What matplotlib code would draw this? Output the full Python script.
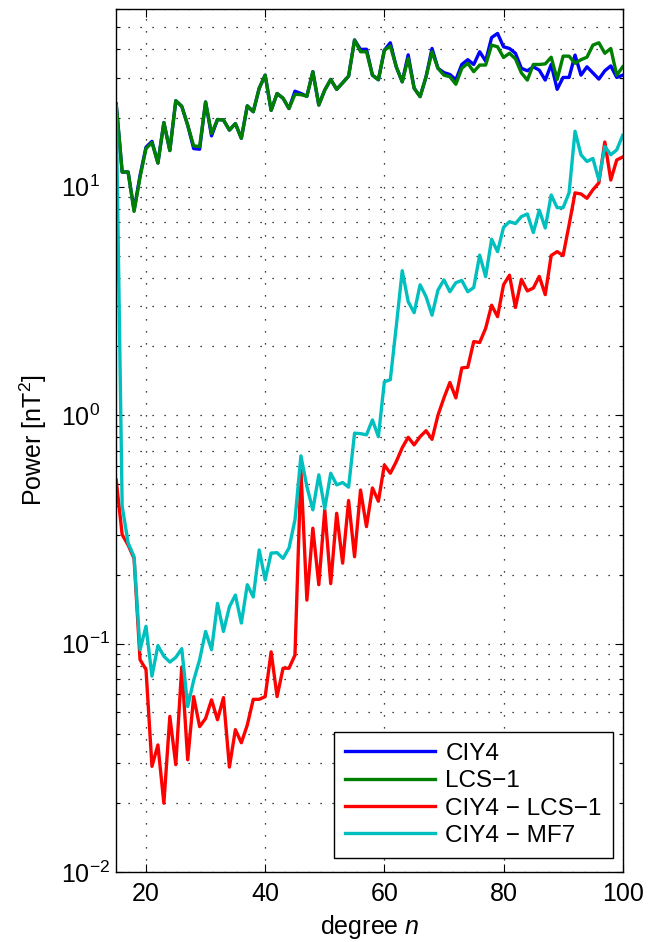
import matplotlib
matplotlib.use("Agg")
import matplotlib.pyplot as plt
import numpy as np
from matplotlib.ticker import FixedLocator, NullFormatter, LogFormatterSciNotation

plt.rcParams['font.family'] = ['Liberation Sans', 'DejaVu Sans']
plt.rcParams['mathtext.fontset'] = 'custom'
plt.rcParams['mathtext.rm'] = 'Liberation Sans'
plt.rcParams['mathtext.it'] = 'Liberation Sans:italic'
plt.rcParams['mathtext.bf'] = 'Liberation Sans:bold'
plt.rcParams['axes.unicode_minus'] = True

# ---------------- data ----------------
degrees = list(range(15, 101))

lcs1 = [23.0, 11.6, 11.6, 7.8, 11.0, 14.7, 15.6, 12.7, 19.1, 14.4,
        23.8, 22.5, 18.6, 15.1, 15.0, 23.5, 17.1, 19.7, 19.6, 17.7,
        18.9, 16.3, 22.6, 21.3, 27.0, 30.8, 21.6, 25.6, 24.4, 22.0,
        25.4, 25.3, 24.9, 31.9, 22.8, 26.5, 29.5, 26.7, 28.5, 30.5,
        43.9, 39.0, 39.0, 30.8, 29.4, 39.6, 41.3, 33.5, 28.8, 36.5,
        27.0, 24.8, 30.3, 39.0, 33.0, 30.8, 30.3, 28.1, 33.0, 34.7,
        31.9, 34.1, 34.1, 41.7, 41.0, 36.8, 38.4, 36.3, 31.5, 29.3,
        34.3, 34.3, 34.5, 36.9, 29.5, 37.3, 37.3, 34.7, 36.0, 36.9,
        41.7, 42.7, 38.4, 40.3, 30.8, 33.5]

ciy4 = [23.0, 11.6, 11.6, 7.9, 11.2, 14.9, 15.8, 12.7, 19.1, 14.4,
        23.8, 22.5, 18.6, 14.7, 14.6, 23.5, 16.7, 19.7, 19.6, 17.7,
        18.9, 16.3, 22.6, 21.3, 27.0, 30.8, 21.6, 25.6, 24.4, 22.0,
        26.2, 25.6, 24.9, 31.9, 22.8, 26.5, 29.5, 26.7, 28.5, 30.5,
        43.9, 39.9, 40.0, 30.8, 29.4, 39.6, 42.7, 33.5, 28.8, 37.8,
        27.0, 24.8, 30.3, 40.3, 33.0, 31.6, 31.0, 29.4, 34.3, 36.0,
        34.3, 39.0, 35.5, 45.0, 46.9, 41.0, 40.3, 38.4, 33.0, 32.2,
        33.5, 32.4, 29.3, 34.3, 26.7, 30.1, 30.1, 37.7, 30.8, 33.5,
        31.5, 29.6, 32.2, 33.8, 30.1, 30.8]

ciy4_minus_lcs1 = [0.52, 0.30, 0.27, 0.236, 0.085, 0.077, 0.029, 0.036, 0.020, 0.048,
                   0.0295, 0.079, 0.031, 0.0586, 0.0433, 0.047, 0.0567, 0.0464, 0.058, 0.0288,
                   0.042, 0.0368, 0.044, 0.057, 0.057, 0.0586, 0.092, 0.0586, 0.078, 0.078,
                   0.089, 0.575, 0.155, 0.32, 0.181, 0.385, 0.183, 0.372, 0.225, 0.423,
                   0.24, 0.47, 0.325, 0.48, 0.42, 0.605, 0.557, 0.626, 0.72, 0.80,
                   0.741, 0.805, 0.855, 0.784, 1.0, 1.19, 1.39, 1.19, 1.61, 1.62,
                   2.1, 2.08, 2.4, 3.03, 2.7, 3.72, 4.1, 2.96, 3.93, 3.5,
                   3.6, 4.05, 3.37, 5.0, 5.2, 5.0, 6.8, 9.4, 9.3, 8.9,
                   9.7, 10.4, 15.7, 10.7, 13.1, 13.5]

ciy4_minus_mf7 = [22.5, 0.40, 0.276, 0.24, 0.094, 0.119, 0.072, 0.098, 0.088, 0.083,
                  0.087, 0.095, 0.053, 0.069, 0.085, 0.113, 0.094, 0.150, 0.113, 0.145,
                  0.163, 0.123, 0.181, 0.16, 0.257, 0.19, 0.249, 0.25, 0.236, 0.262,
                  0.348, 0.663, 0.487, 0.385, 0.548, 0.39, 0.557, 0.495, 0.507, 0.484,
                  0.834, 0.83, 0.82, 0.953, 0.805, 1.40, 1.43, 2.45, 4.29, 3.14,
                  2.81, 3.72, 3.3, 2.74, 3.53, 3.91, 3.47, 3.8, 3.89, 3.47,
                  3.62, 5.02, 4.04, 5.89, 5.2, 6.64, 7.03, 6.9, 7.4, 7.6,
                  6.3, 7.9, 6.6, 9.2, 8.1, 8.1, 9.4, 17.5, 13.8, 12.9,
                  13.3, 10.7, 15.0, 13.8, 14.5, 16.8]

series_labels = ["CIY4", "LCS\u22121", "CIY4 \u2212 LCS\u22121", "CIY4 \u2212 MF7"]
series_colors = ["#0000ff", "#008000", "#ff0000", "#00bfbf"]
x_ticks = [20, 40, 60, 80, 100]
y_ticks = [1e-2, 1e-1, 1e0, 1e1]

# ---------------- figure ----------------
W, H = 648, 942
fig = plt.figure(figsize=(W / 100, H / 100), dpi=100)
L, R, T, B = 116.2, 622.7, 9.0, 872.0
ax = fig.add_axes([L / W, 1 - B / H, (R - L) / W, (B - T) / H])

for ys, lab, col in zip([ciy4, lcs1, ciy4_minus_lcs1, ciy4_minus_mf7], series_labels, series_colors):
    ax.plot(degrees, ys, color=col, lw=2.4, label=lab)

ax.set_yscale('log')
ax.set_xlim(15, 100)
ax.set_ylim(1e-2, 60)

ax.xaxis.set_major_locator(FixedLocator(x_ticks))
ax.yaxis.set_major_locator(FixedLocator(y_ticks))
minor = [m * 10.0 ** e for e in range(-2, 2) for m in range(2, 10)]
ax.yaxis.set_minor_locator(FixedLocator(minor))
ax.yaxis.set_minor_formatter(NullFormatter())
ax.yaxis.set_major_formatter(LogFormatterSciNotation())

dot = (0, (1, 8.6))
ax.grid(True, which='major', axis='both', color='k', ls=dot, lw=0.9)
ax.grid(True, which='minor', axis='y', color='k', ls=dot, lw=0.9)

ax.tick_params(which='both', direction='in', top=True, right=True, width=0.8, colors='k')
ax.tick_params(which='major', length=6)
ax.tick_params(which='minor', length=3)
ax.tick_params(axis='x', labelsize=18, pad=7)
ax.tick_params(axis='y', labelsize=18, pad=40)
for lab in ax.get_yticklabels():
    lab.set_horizontalalignment('left')

for s in ax.spines.values():
    s.set_linewidth(1.0)
    s.set_color('k')

ax.set_xlabel("degree $n$", fontsize=18)
ax.xaxis.set_label_coords(0.5, (B - 941) / (B - T))
ax.xaxis.label.set_va('bottom')
ax.set_ylabel("Power [nT$^2$]", fontsize=18)
ax.yaxis.label.set_va('center')
ax.yaxis.set_label_coords((33 - L) / (R - L), 0.5)

leg = ax.legend(loc='lower right', bbox_to_anchor=((612.8 - L) / (R - L), (B - 857.9) / (B - T)),
                borderaxespad=0, fontsize=17.5, frameon=True, fancybox=False, framealpha=1,
                edgecolor='k', handlelength=3.7, handletextpad=0.45, borderpad=0.45,
                labelspacing=0.22)
leg.get_frame().set_linewidth(1.0)

fig.savefig("out.png", dpi=100)
